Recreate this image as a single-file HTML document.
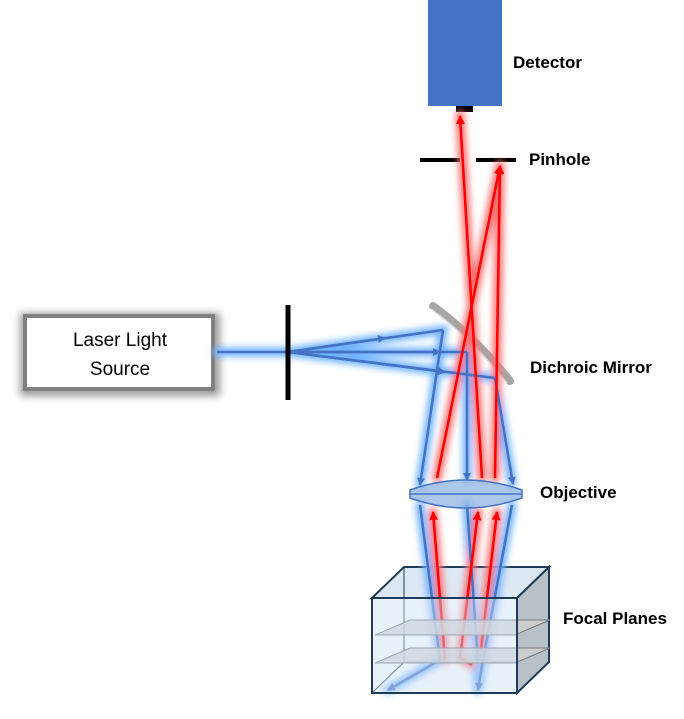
<!DOCTYPE html>
<html><head><style>
body{margin:0;background:#fff;width:684px;height:714px;overflow:hidden;font-family:"Liberation Sans",sans-serif}
</style></head><body>
<svg width="684" height="714" viewBox="0 0 684 714" xmlns="http://www.w3.org/2000/svg">
<defs>
<filter id="gb" x="-50%" y="-50%" width="200%" height="200%"><feGaussianBlur stdDeviation="3.5"/></filter>
<filter id="sh" x="-20%" y="-20%" width="140%" height="140%"><feGaussianBlur stdDeviation="4"/></filter>
<marker id="ab" markerWidth="8" markerHeight="8" refX="7" refY="4" orient="auto" markerUnits="userSpaceOnUse"><path d="M0,0 L8,4 L0,8 z" fill="#4472C4"/></marker>
<marker id="ar" markerWidth="9" markerHeight="9" refX="8" refY="4.5" orient="auto" markerUnits="userSpaceOnUse"><path d="M0,0 L9,4.5 L0,9 z" fill="#f00"/></marker>
</defs>
<rect x="428" y="0" width="74" height="106" fill="#4472C4"/>
<rect x="456" y="106" width="17" height="6" fill="#000"/>
<text x="513" y="68" font-size="17" font-weight="bold">Detector</text>
<line x1="420" y1="160" x2="460" y2="160" stroke="#000" stroke-width="4"/>
<line x1="476" y1="160" x2="516" y2="160" stroke="#000" stroke-width="4"/>
<text x="529" y="165" font-size="17" font-weight="bold">Pinhole</text>
<rect x="25" y="318" width="190" height="73" fill="none" stroke="#999" stroke-width="10" filter="url(#sh)"/>
<rect x="25" y="316" width="188" height="73" fill="#fff" stroke="#808080" stroke-width="4"/>
<text x="120" y="346" font-size="19" text-anchor="middle">Laser Light</text>
<text x="120" y="375" font-size="19" text-anchor="middle">Source</text>
<path d="M433,306 Q475,337 510,381" fill="none" stroke="#a6a6a6" stroke-width="8" stroke-linecap="round"/>
<path d="M431,309 Q473,340 507,383" fill="none" stroke="#e0e0e0" stroke-width="1.5"/>
<text x="530" y="373" font-size="17" font-weight="bold">Dichroic Mirror</text>
<polygon points="372,598 404,567 549,567 517,598" fill="#dde8f4" stroke="#1f3b5a" stroke-width="2"/>
<polygon points="517,598 549,567 549,662 517,693" fill="#b8c0c8" stroke="#1f3b5a" stroke-width="2"/>
<line x1="404" y1="567" x2="404" y2="662" stroke="#1f3b5a" stroke-width="1"/>
<line x1="404" y1="662" x2="372" y2="693" stroke="#1f3b5a" stroke-width="1"/>
<line x1="404" y1="662" x2="517" y2="662" stroke="#1f3b5a" stroke-width="1"/>
<g filter="url(#gb)" fill="none" stroke-width="9" stroke-linecap="round">
<g stroke="#6fb2ff">
<path d="M217,352 L288,352 L443,330 L420,485 M288,352 L467,352 L467,478 M288,352 L495,378 L512,483 M420,505 L440,660 L388,690 M467,505 L478,690 M512,505 L483,660 L478,690"/>
</g>
<g stroke="#ff7070">
<path d="M437,478 L500,165 M482,478 L460,115 M495,478 L500,165 M445,660 L433,512 M460,658 L478,512 M472,665 L460,658 M480,650 L497,512"/>
</g>
</g>
<g fill="none" stroke="#4472C4" stroke-width="2.5">
<line x1="217" y1="352" x2="288" y2="352"/>
<line x1="288" y1="352" x2="443" y2="330"/>
<line x1="288" y1="352" x2="467" y2="352"/>
<line x1="288" y1="352" x2="495" y2="378"/>
<line x1="288" y1="352" x2="385" y2="338" marker-end="url(#ab)"/>
<line x1="288" y1="352" x2="440" y2="352" marker-end="url(#ab)"/>
<line x1="288" y1="352" x2="445" y2="372" marker-end="url(#ab)"/>
<line x1="443" y1="330" x2="420" y2="485" marker-end="url(#ab)"/>
<line x1="467" y1="352" x2="467" y2="480" marker-end="url(#ab)"/>
<line x1="495" y1="378" x2="513" y2="484" marker-end="url(#ab)"/>
<polyline points="420,505 440,660 388,690" marker-end="url(#ab)"/>
<line x1="467" y1="505" x2="478" y2="662" marker-end="url(#ab)"/>
<polyline points="512,505 483,660 478,690" marker-end="url(#ab)"/>
</g>
<g fill="none" stroke="#f00" stroke-width="2.5">
<line x1="437" y1="478" x2="500" y2="166" marker-end="url(#ar)"/>
<line x1="482" y1="478" x2="460" y2="116" marker-end="url(#ar)"/>
<line x1="495" y1="478" x2="500" y2="166" marker-end="url(#ar)"/>
<line x1="445" y1="660" x2="433" y2="512" marker-end="url(#ar)"/>
<polyline points="472,665 460,658 478,512" marker-end="url(#ar)"/>
<line x1="481" y1="650" x2="497" y2="512" marker-end="url(#ar)"/>
</g>
<path d="M410,490 Q466,470 522,490 L522,498 Q466,518 410,498 Z" fill="#8fb4e3" fill-opacity="0.75" stroke="#4472C4" stroke-width="1.5"/>
<line x1="410" y1="494" x2="522" y2="494" stroke="#4472C4" stroke-width="1.5"/>
<text x="540" y="498" font-size="17" font-weight="bold">Objective</text>
<polygon points="375,635 410,620 550,620 515,635" fill="#d0d0d0" fill-opacity="0.8" stroke="#777" stroke-width="1"/>
<polygon points="375,663 410,648 550,648 515,663" fill="#d0d0d0" fill-opacity="0.8" stroke="#777" stroke-width="1"/>
<rect x="372" y="598" width="145" height="95" fill="#cfe0f3" fill-opacity="0.45" stroke="#1f3b5a" stroke-width="2"/>
<text x="563" y="624" font-size="17" font-weight="bold">Focal Planes</text>
<line x1="288" y1="305" x2="288" y2="400" stroke="#000" stroke-width="5"/>
</svg>
</body></html>
